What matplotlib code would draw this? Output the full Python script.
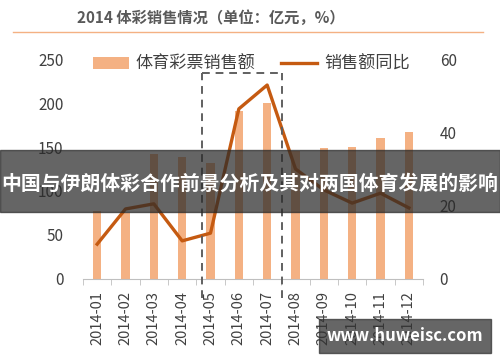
import matplotlib
matplotlib.use("Agg")
import matplotlib.pyplot as plt
from matplotlib.patches import Rectangle
from matplotlib.lines import Line2D

plt.rcParams['font.family'] = ['Noto Sans CJK SC', 'DejaVu Sans']

months = ["2014-01", "2014-02", "2014-03", "2014-04", "2014-05", "2014-06",
          "2014-07", "2014-08", "2014-09", "2014-10", "2014-11", "2014-12"]
sales = [77, 75, 142, 139, 132, 191, 200, 145, 149, 150, 160, 167]
yoy = [9.5, 19.1, 20.5, 10.4, 12.5, 46.4, 52.9, 30.0, 24.3, 20.7, 23.4, 19.4]

title = "2014 体彩销售情况（单位：亿元，%）"
banner = "中国与伊朗体彩合作前景分析及其对两国体育发展的影响"
watermark = "www.huweisc.com"

BAR_COLOR = "#F4B183"
LINE_COLOR = "#C55A11"
TEXT_COLOR = "#404040"
AXIS_COLOR = "#BFBFBF"

fig = plt.figure(figsize=(5, 3.62), dpi=100)
ax = fig.add_axes([0.166, 0.2293, 0.68, 0.6077])
ax2 = ax.twinx()

x = list(range(len(months)))
bars = ax.bar(x, sales, width=0.3, color=BAR_COLOR)
line, = ax2.plot(x, yoy, color=LINE_COLOR, lw=2.4)

ax.set_xlim(-0.5, len(months) - 0.5)
ax.set_ylim(0, 250)
ax2.set_ylim(0, 60)
ax.set_yticks(range(0, 251, 50))
ax2.set_yticks(range(0, 61, 20))

for s in ["top", "left", "right"]:
    ax.spines[s].set_visible(False)
ax.spines["bottom"].set_color(AXIS_COLOR)
for s in ax2.spines.values():
    s.set_visible(False)

ax.tick_params(axis="y", length=0, pad=14, labelsize=11, colors=TEXT_COLOR)
ax2.tick_params(axis="y", length=0, pad=12, labelsize=11, colors=TEXT_COLOR)

ax.set_xticks(x)
ax.set_xticklabels(months, rotation=90, fontsize=10.5, color=TEXT_COLOR)
ax.tick_params(axis="x", which="major", length=0, pad=9)
ax.set_xticks([i - 0.5 for i in range(len(months) + 1)], minor=True)
ax.tick_params(axis="x", which="minor", length=4, color=AXIS_COLOR)

leg = ax2.legend([bars, line], ["体育彩票销售额", "销售额同比"],
                 loc="center left", bbox_to_anchor=(0.03, 0.977), ncol=2,
                 frameon=False, fontsize=12.3, handlelength=2.1,
                 handletextpad=0.4, columnspacing=1.5,
                 borderpad=0, borderaxespad=0)
for t in leg.get_texts():
    t.set_color(TEXT_COLOR)

# dashed highlight box around May-Jul
dash = dict(color="#606060", lw=1.4, linestyle=(0, (4, 3)), clip_on=False)
ax2.plot([3.7, 3.7], [-5.2, 56.2], **dash)
ax2.plot([6.52, 6.52], [-5.2, 56.2], **dash)
ax2.plot([3.7, 6.52], [56.2, 56.2], **dash)

# title and rule
fig.text(77 / 500, 1 - 18 / 362, title, fontsize=11, fontweight="bold",
         color="#595959", ha="left", va="center")
fig.add_artist(Line2D([13 / 500, 483 / 500], [1 - 32 / 362] * 2,
                      color=BAR_COLOR, lw=1))

# overlay banner
fig.add_artist(Rectangle((0, 1 - 212 / 362), 1, 62 / 362,
                         transform=fig.transFigure, color=(0.16, 0.16, 0.16),
                         alpha=0.72, zorder=10))
fig.text(0.5, 1 - 183 / 362, banner, fontsize=14.3, fontweight="bold",
         color="white", ha="center", va="center", zorder=11)

# watermark
fig.add_artist(Rectangle((319 / 500, 1 - 353 / 362), 172 / 500, 34 / 362,
                         transform=fig.transFigure, color=(0.2, 0.2, 0.2),
                         alpha=0.75, zorder=10))
fig.text(405 / 500, 1 - 336 / 362, watermark, fontsize=12, fontweight="bold",
         color="white", ha="center", va="center", zorder=11)

fig.savefig("out.png", dpi=100)
